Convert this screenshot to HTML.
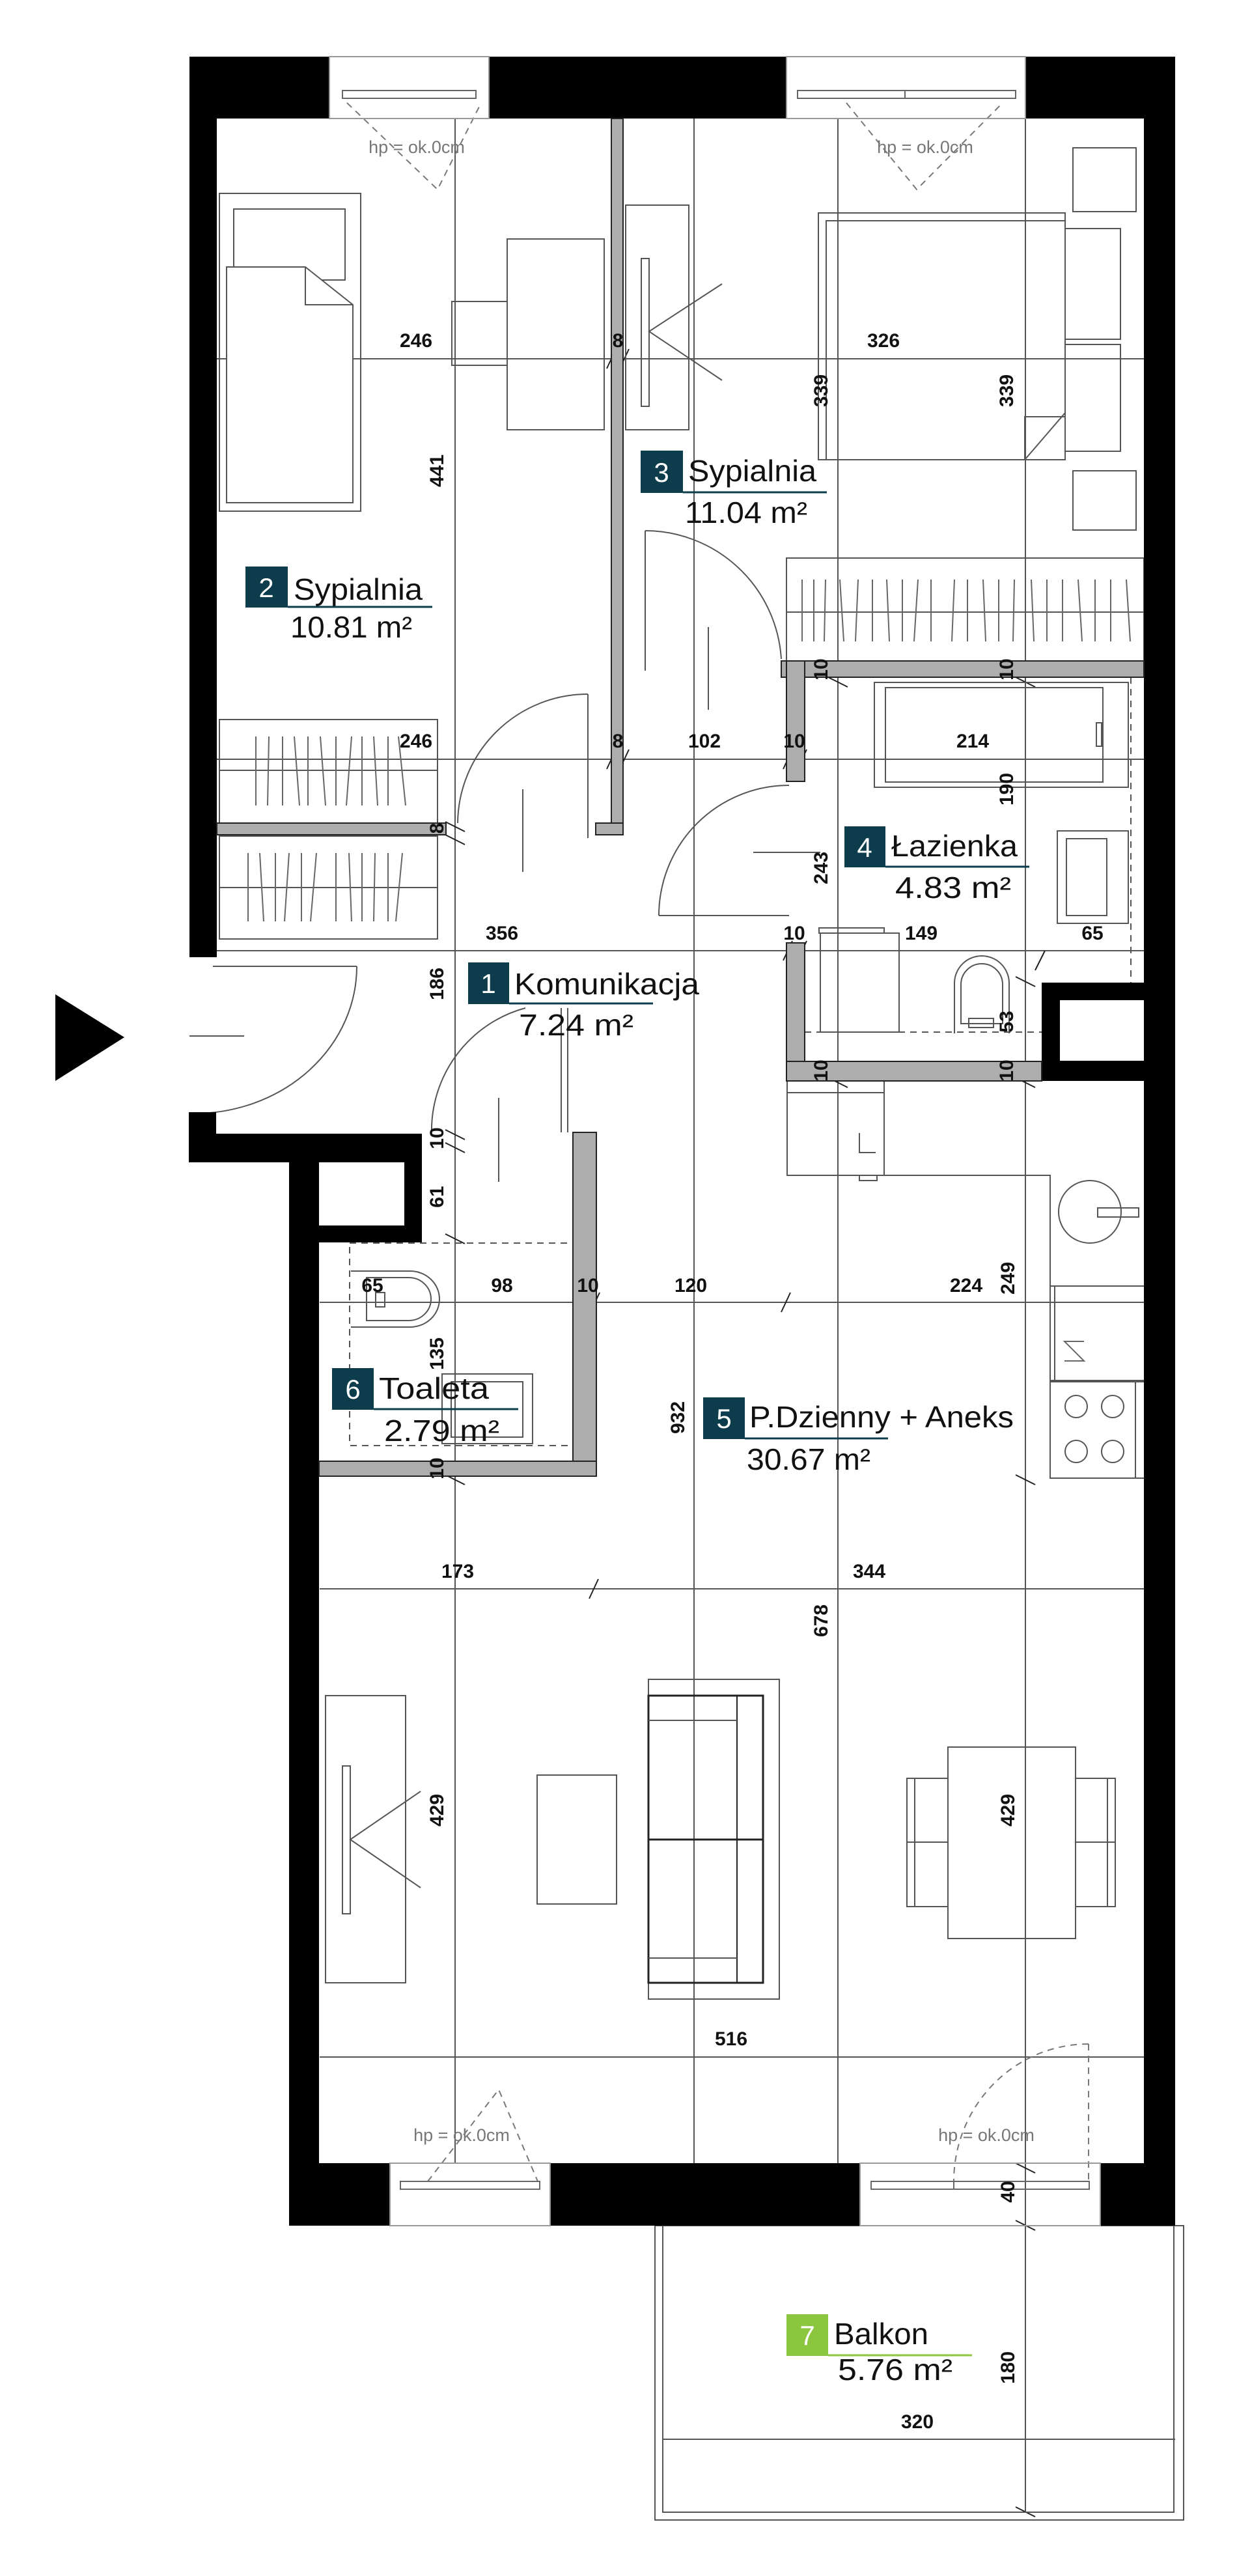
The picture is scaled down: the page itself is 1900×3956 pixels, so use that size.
<!DOCTYPE html>
<html><head><meta charset="utf-8"><style>
html,body{margin:0;padding:0;background:#fff;}
svg{display:block;}
.d{font-family:"Liberation Sans",sans-serif;font-size:30px;font-weight:bold;fill:#111;text-anchor:middle;}
.hp{font-family:"Liberation Sans",sans-serif;font-size:27px;fill:#777;text-anchor:middle;}
.rn{font-family:"Liberation Sans",sans-serif;font-size:46px;fill:#111;}
.ar{font-family:"Liberation Sans",sans-serif;font-size:46px;fill:#111;}
.bn{font-family:"Liberation Sans",sans-serif;font-size:42px;fill:#fff;text-anchor:middle;}
</style></head><body>
<svg width="1900" height="3956" viewBox="0 0 1900 3956" xmlns="http://www.w3.org/2000/svg">
<rect width="1900" height="3956" fill="#fff"/>

<g stroke="#555" stroke-width="2" fill="none">
<line x1="699" y1="182" x2="699" y2="3322"/>
<line x1="1066" y1="182" x2="1066" y2="3322"/>
<line x1="1287" y1="182" x2="1287" y2="3322"/>
<line x1="1575" y1="182" x2="1575" y2="3858"/>
<line x1="333" y1="551" x2="1757" y2="551"/>
<line x1="333" y1="1166" x2="1757" y2="1166"/>
<line x1="333" y1="1460" x2="1757" y2="1460"/>
<line x1="491" y1="2000" x2="1757" y2="2000"/>
<line x1="491" y1="2440" x2="1757" y2="2440"/>
<line x1="491" y1="3159" x2="1757" y2="3159"/>
<line x1="1018" y1="3746" x2="1805" y2="3746"/>
</g>
<g stroke="#222" stroke-width="2">
<line x1="932" y1="566" x2="946" y2="536"/><line x1="952" y1="566" x2="966" y2="536"/>
<line x1="932" y1="1181" x2="946" y2="1151"/><line x1="952" y1="1181" x2="966" y2="1151"/>
<line x1="1203" y1="1181" x2="1217" y2="1151"/><line x1="1225" y1="1181" x2="1239" y2="1151"/>
<line x1="1203" y1="1475" x2="1217" y2="1445"/><line x1="1225" y1="1475" x2="1239" y2="1445"/>
<line x1="885" y1="2015" x2="899" y2="1985"/><line x1="907" y1="2015" x2="921" y2="1985"/>
<line x1="1200" y1="2015" x2="1214" y2="1985"/>
<line x1="905" y1="2455" x2="919" y2="2425"/>
<line x1="1590" y1="1490" x2="1605" y2="1460"/>
<line x1="684" y1="1735" x2="714" y2="1750"/><line x1="684" y1="1755" x2="714" y2="1770"/>
<line x1="684" y1="1895" x2="714" y2="1910"/>
<line x1="684" y1="2245" x2="714" y2="2260"/><line x1="684" y1="2265" x2="714" y2="2280"/>
<line x1="684" y1="1262" x2="714" y2="1277"/><line x1="684" y1="1282" x2="714" y2="1297"/>
<line x1="1272" y1="1015" x2="1302" y2="1030"/><line x1="1272" y1="1040" x2="1302" y2="1055"/>
<line x1="1560" y1="1015" x2="1590" y2="1030"/><line x1="1560" y1="1040" x2="1590" y2="1055"/>
<line x1="1560" y1="1500" x2="1590" y2="1515"/>
<line x1="1560" y1="1630" x2="1590" y2="1645"/><line x1="1560" y1="1655" x2="1590" y2="1670"/>
<line x1="1272" y1="1630" x2="1302" y2="1645"/><line x1="1272" y1="1655" x2="1302" y2="1670"/>
<line x1="1560" y1="2265" x2="1590" y2="2280"/>
<line x1="1560" y1="3322" x2="1590" y2="3337"/><line x1="1560" y1="3410" x2="1590" y2="3425"/>
<line x1="1560" y1="3850" x2="1590" y2="3865"/>
</g>

<g stroke="#555" stroke-width="2" fill="none">
<rect x="337" y="297" width="217" height="488"/>
<rect x="359" y="321" width="171" height="109"/>
<path d="M348 410 H469 L542 468 V772 H348 Z" fill="#fff"/>
<path d="M469 410 V468 H542"/>
<rect x="779" y="367" width="149" height="293"/>
<rect x="694" y="463" width="85" height="98"/>
<rect x="337" y="1105" width="335" height="159"/>
<line x1="337" y1="1183" x2="672" y2="1183"/>
<rect x="337" y="1284" width="335" height="158"/>
<line x1="337" y1="1363" x2="672" y2="1363"/>
<path d="M533 158 L672 291 L739 158" stroke-dasharray="10,8" stroke="#777"/>
<path d="M1300 158 L1408 291 L1540 158" stroke-dasharray="10,8" stroke="#777"/>
<rect x="961" y="315" width="97" height="345"/>
<rect x="985" y="397" width="12" height="227"/>
<path d="M1109 436 L997 509 L1109 584"/>
<rect x="1257" y="327" width="379" height="379"/>
<path d="M1269 339 H1636 V634 L1574 706 H1269 Z"/>
<path d="M1574 706 V640 H1636"/>
<rect x="1648" y="227" width="97" height="98"/>
<rect x="1648" y="723" width="97" height="91"/>
<rect x="1636" y="351" width="85" height="170"/>
<rect x="1636" y="529" width="85" height="164"/>
<rect x="1208" y="857" width="549" height="158"/>
<line x1="1208" y1="940" x2="1757" y2="940"/>
<line x1="991" y1="815" x2="991" y2="1030"/>
<path d="M991 815 A210 210 0 0 1 1200 1012"/>
<line x1="903" y1="1066" x2="903" y2="1287"/>
<path d="M903 1066 A200 200 0 0 0 703 1264"/>
<line x1="1012" y1="1406" x2="1212" y2="1406"/>
<path d="M1012 1406 A200 200 0 0 1 1212 1206"/>
<line x1="803" y1="1212" x2="803" y2="1339"/>
<line x1="1088" y1="963" x2="1088" y2="1090"/>
<line x1="1157" y1="1309" x2="1260" y2="1309"/>
<rect x="1343" y="1048" width="390" height="161"/>
<rect x="1360" y="1056" width="334" height="145"/>
<rect x="1684" y="1110" width="8" height="36"/>
<rect x="1624" y="1276" width="109" height="142"/>
<rect x="1638" y="1288" width="62" height="118"/>
<rect x="1260" y="1433" width="121" height="152"/>
<rect x="1258" y="1425" width="100" height="8"/>
<path d="M1466 1587 V1510 A42 42 0 0 1 1550 1510 V1587"/>
<path d="M1476 1572 V1512 A32 32 0 0 1 1540 1512 V1572 Z"/>
<rect x="1488" y="1564" width="38" height="14"/>
<line x1="1236" y1="1585" x2="1600" y2="1585" stroke-dasharray="10,8"/>
<line x1="1737" y1="1040" x2="1737" y2="1509" stroke-dasharray="10,8"/>
<line x1="327" y1="1484" x2="548" y2="1484"/>
<path d="M548 1484 A250 226 0 0 1 298 1710"/>
<line x1="291" y1="1591" x2="375" y2="1591"/>
<line x1="862" y1="1548" x2="862" y2="1739"/>
<line x1="872" y1="1548" x2="872" y2="1739"/>
<path d="M807 1548 A195 195 0 0 0 663 1742"/>
<line x1="766" y1="1686" x2="766" y2="1815"/>
<rect x="537" y="1909" width="354" height="311" stroke-dasharray="10,8"/>
<path d="M539 1952 H630 A45 43 0 0 1 630 2038 H539"/>
<path d="M563 1962 H628 A34 33 0 0 1 628 2028 H563 Z"/>
<rect x="577" y="1985" width="14" height="22"/>
<rect x="679" y="2110" width="139" height="107"/>
<rect x="693" y="2122" width="110" height="85"/>
<rect x="1209" y="1660" width="149" height="145"/>
<line x1="1209" y1="1678" x2="1358" y2="1678"/>
<path d="M1320 1740 V1770 H1345"/>
<rect x="1320" y="1805" width="27" height="8"/>
<path d="M1358 1805 H1613 V2270 H1758"/>
<circle cx="1674" cy="1861" r="48"/>
<rect x="1686" y="1855" width="63" height="14"/>
<rect x="1613" y="1975" width="145" height="145"/>
<line x1="1620" y1="1975" x2="1620" y2="2120"/>
<path d="M1635 2090 H1665 L1635 2060 H1665" stroke="#666"/>
<rect x="1613" y="2122" width="145" height="148"/>
<line x1="1744" y1="2122" x2="1744" y2="2270"/>
<circle cx="1653" cy="2160" r="17"/><circle cx="1709" cy="2160" r="17"/>
<circle cx="1653" cy="2229" r="17"/><circle cx="1709" cy="2229" r="17"/>
<rect x="500" y="2604" width="123" height="441"/>
<rect x="526" y="2712" width="12" height="227"/>
<path d="M646 2751 L538 2825 L646 2899"/>
<rect x="825" y="2726" width="122" height="198"/>
<rect x="996" y="2579" width="201" height="491"/>
<rect x="996" y="2604" width="176" height="441" stroke="#222" stroke-width="3"/>
<line x1="1132" y1="2604" x2="1132" y2="3045" stroke="#222"/>
<line x1="996" y1="2642" x2="1132" y2="2642"/>
<line x1="996" y1="2825" x2="1172" y2="2825" stroke="#222" stroke-width="3"/>
<line x1="996" y1="3007" x2="1132" y2="3007"/>
<rect x="1456" y="2683" width="196" height="294"/>
<rect x="1393" y="2731" width="63" height="197"/>
<line x1="1405" y1="2731" x2="1405" y2="2928"/>
<line x1="1393" y1="2829" x2="1456" y2="2829"/>
<rect x="1652" y="2731" width="61" height="197"/>
<line x1="1701" y1="2731" x2="1701" y2="2928"/>
<line x1="1652" y1="2829" x2="1713" y2="2829"/>
<path d="M657 3350 L766 3209 L826 3350" stroke-dasharray="10,8" stroke="#777"/>
<path d="M1672 3139 V3350 M1672 3139 A207 211 0 0 0 1465 3350" stroke-dasharray="10,8" stroke="#777"/>
<rect x="1006" y="3418" width="812" height="452"/>
<path d="M1018 3418 V3858 H1803 V3418"/>
</g>
<g stroke="#666" stroke-width="2">
<line x1="393" y1="1131" x2="393" y2="1237"/><line x1="413" y1="1131" x2="411" y2="1237"/><line x1="434" y1="1131" x2="434" y2="1237"/><line x1="452" y1="1131" x2="460" y2="1237"/><line x1="473" y1="1131" x2="473" y2="1237"/><line x1="492" y1="1131" x2="500" y2="1237"/><line x1="516" y1="1131" x2="516" y2="1237"/><line x1="540" y1="1131" x2="532" y2="1237"/><line x1="556" y1="1131" x2="556" y2="1237"/><line x1="574" y1="1131" x2="580" y2="1237"/><line x1="596" y1="1131" x2="596" y2="1237"/><line x1="612" y1="1131" x2="623" y2="1237"/>
<line x1="381" y1="1310" x2="381" y2="1415"/><line x1="399" y1="1310" x2="405" y2="1415"/><line x1="423" y1="1310" x2="423" y2="1415"/><line x1="444" y1="1310" x2="437" y2="1415"/><line x1="463" y1="1310" x2="463" y2="1415"/><line x1="486" y1="1310" x2="477" y2="1415"/><line x1="516" y1="1310" x2="516" y2="1415"/><line x1="536" y1="1310" x2="540" y2="1415"/><line x1="556" y1="1310" x2="556" y2="1415"/><line x1="576" y1="1310" x2="574" y2="1415"/><line x1="596" y1="1310" x2="596" y2="1415"/><line x1="618" y1="1310" x2="608" y2="1415"/>
<line x1="1232" y1="890" x2="1232" y2="985"/><line x1="1250" y1="890" x2="1250" y2="985"/><line x1="1268" y1="890" x2="1266" y2="985"/><line x1="1290" y1="890" x2="1296" y2="985"/><line x1="1318" y1="890" x2="1314" y2="985"/><line x1="1340" y1="890" x2="1340" y2="985"/><line x1="1362" y1="890" x2="1366" y2="985"/><line x1="1386" y1="890" x2="1386" y2="985"/><line x1="1410" y1="890" x2="1404" y2="985"/><line x1="1430" y1="890" x2="1430" y2="985"/><line x1="1466" y1="890" x2="1462" y2="985"/><line x1="1486" y1="890" x2="1486" y2="985"/><line x1="1510" y1="890" x2="1514" y2="985"/><line x1="1534" y1="890" x2="1534" y2="985"/><line x1="1558" y1="890" x2="1556" y2="985"/><line x1="1584" y1="890" x2="1588" y2="985"/><line x1="1608" y1="890" x2="1608" y2="985"/><line x1="1632" y1="890" x2="1632" y2="985"/><line x1="1656" y1="890" x2="1662" y2="985"/><line x1="1682" y1="890" x2="1682" y2="985"/><line x1="1706" y1="890" x2="1706" y2="985"/><line x1="1730" y1="890" x2="1736" y2="985"/>
</g>

<g fill="#000">
<rect x="291" y="87" width="215" height="95"/>
<rect x="751" y="87" width="457" height="95"/>
<rect x="1575" y="87" width="230" height="95"/>
<rect x="291" y="87" width="42" height="1383"/>
<rect x="1757" y="87" width="48" height="3331"/>
<rect x="290" y="1741" width="358" height="44"/>
<rect x="290" y="1708" width="42" height="77"/>
<rect x="444" y="1741" width="46" height="1677"/>
<rect x="621" y="1741" width="27" height="167"/>
<rect x="490" y="1882" width="158" height="26"/>
<rect x="1600" y="1509" width="157" height="27"/>
<rect x="1600" y="1509" width="28" height="151"/>
<rect x="1600" y="1629" width="157" height="31"/>
<rect x="445" y="3322" width="154" height="96"/>
<rect x="845" y="3322" width="476" height="96"/>
<rect x="1690" y="3322" width="115" height="96"/>
</g>
<g stroke="#666" stroke-width="2" fill="none">
<rect x="506" y="87" width="245" height="95" stroke="#999"/>
<rect x="526" y="139" width="205" height="12"/>
<rect x="1208" y="87" width="367" height="95" stroke="#999"/>
<rect x="1225" y="139" width="335" height="12"/>
<line x1="1390" y1="139" x2="1390" y2="151"/>
<rect x="599" y="3322" width="246" height="96" stroke="#999"/>
<rect x="615" y="3350" width="214" height="12"/>
<rect x="1321" y="3322" width="369" height="96" stroke="#999"/>
<rect x="1338" y="3350" width="335" height="12"/>
<line x1="1465" y1="3350" x2="1465" y2="3362"/>
</g>
<g fill="#adadad" stroke="#222" stroke-width="2">
<rect x="939" y="182" width="18" height="1100"/>
<rect x="915" y="1264" width="42" height="18"/>
<rect x="333" y="1264" width="352" height="18"/>
<rect x="1200" y="1015" width="557" height="25"/>
<rect x="1208" y="1015" width="28" height="185"/>
<rect x="1208" y="1448" width="28" height="212"/>
<rect x="1208" y="1630" width="392" height="30"/>
<rect x="880" y="1739" width="36" height="528"/>
<rect x="490" y="2244" width="426" height="23"/>
</g>

<polygon points="85,1527 191,1593 85,1660" fill="#000"/>

<g class="d">
<text x="639" y="533">246</text><text x="949" y="533">8</text><text x="1357" y="533">326</text>
<text x="639" y="1148">246</text><text x="949" y="1148">8</text><text x="1082" y="1148">102</text><text x="1220" y="1148">10</text><text x="1494" y="1148">214</text>
<text x="771" y="1443">356</text><text x="1220" y="1443">10</text><text x="1415" y="1443">149</text><text x="1678" y="1443">65</text>
<text x="572" y="1984">65</text><text x="771" y="1984">98</text><text x="903" y="1984">10</text><text x="1061" y="1984">120</text><text x="1484" y="1984">224</text>
<text x="703" y="2423">173</text><text x="1335" y="2423">344</text>
<text x="1123" y="3141">516</text><text x="1409" y="3729">320</text>
<text transform="translate(1271,600) rotate(-90)">339</text>
<text transform="translate(1556,600) rotate(-90)">339</text>
<text transform="translate(681,723) rotate(-90)">441</text>
<text transform="translate(1556,1212) rotate(-90)">190</text>
<text transform="translate(681,1272) rotate(-90)">8</text>
<text transform="translate(1271,1333) rotate(-90)">243</text>
<text transform="translate(1271,1028) rotate(-90)">10</text>
<text transform="translate(1556,1028) rotate(-90)">10</text>
<text transform="translate(681,1511) rotate(-90)">186</text>
<text transform="translate(1556,1569) rotate(-90)">53</text>
<text transform="translate(1271,1644) rotate(-90)">10</text>
<text transform="translate(1556,1644) rotate(-90)">10</text>
<text transform="translate(681,1748) rotate(-90)">10</text>
<text transform="translate(681,1838) rotate(-90)">61</text>
<text transform="translate(1558,1963) rotate(-90)">249</text>
<text transform="translate(681,2079) rotate(-90)">135</text>
<text transform="translate(1051,2177) rotate(-90)">932</text>
<text transform="translate(681,2255) rotate(-90)">10</text>
<text transform="translate(1271,2489) rotate(-90)">678</text>
<text transform="translate(681,2780) rotate(-90)">429</text>
<text transform="translate(1558,2780) rotate(-90)">429</text>
<text transform="translate(1558,3366) rotate(-90)">40</text>
<text transform="translate(1558,3636) rotate(-90)">180</text>
</g>
<g class="hp">
<text x="640" y="235">hp = ok.0cm</text><text x="1421" y="235">hp = ok.0cm</text>
<text x="709" y="3288">hp = ok.0cm</text><text x="1515" y="3288">hp = ok.0cm</text>
</g>

<g>
<rect x="377" y="870" width="65" height="63" fill="#0d3d4c"/><text class="bn" x="409" y="917">2</text>
<text class="rn" x="451" y="921" textLength="198" lengthAdjust="spacingAndGlyphs">Sypialnia</text>
<line x1="442" y1="932" x2="664" y2="932" stroke="#0d3d4c" stroke-width="3"/>
<text class="ar" x="446" y="979" textLength="187" lengthAdjust="spacingAndGlyphs">10.81 m²</text>

<rect x="984" y="692" width="65" height="65" fill="#0d3d4c"/><text class="bn" x="1016" y="740">3</text>
<text class="rn" x="1057" y="739" textLength="197" lengthAdjust="spacingAndGlyphs">Sypialnia</text>
<line x1="1049" y1="756" x2="1270" y2="756" stroke="#0d3d4c" stroke-width="3"/>
<text class="ar" x="1052" y="803" textLength="188" lengthAdjust="spacingAndGlyphs">11.04 m²</text>

<rect x="1297" y="1269" width="63" height="63" fill="#0d3d4c"/><text class="bn" x="1328" y="1316">4</text>
<text class="rn" x="1369" y="1315" textLength="194" lengthAdjust="spacingAndGlyphs">Łazienka</text>
<line x1="1360" y1="1331" x2="1581" y2="1331" stroke="#0d3d4c" stroke-width="3"/>
<text class="ar" x="1375" y="1379" textLength="178" lengthAdjust="spacingAndGlyphs">4.83  m²</text>

<rect x="719" y="1478" width="63" height="64" fill="#0d3d4c"/><text class="bn" x="750" y="1525">1</text>
<text class="rn" x="790" y="1527" textLength="284" lengthAdjust="spacingAndGlyphs">Komunikacja</text>
<line x1="782" y1="1541" x2="1003" y2="1541" stroke="#0d3d4c" stroke-width="3"/>
<text class="ar" x="797" y="1590" textLength="176" lengthAdjust="spacingAndGlyphs">7.24  m²</text>

<rect x="510" y="2101" width="64" height="64" fill="#0d3d4c"/><text class="bn" x="542" y="2148">6</text>
<text class="rn" x="582" y="2148" textLength="169" lengthAdjust="spacingAndGlyphs">Toaleta</text>
<line x1="574" y1="2164" x2="796" y2="2164" stroke="#0d3d4c" stroke-width="3"/>
<text class="ar" x="590" y="2213" textLength="177" lengthAdjust="spacingAndGlyphs">2.79  m²</text>

<rect x="1080" y="2146" width="64" height="64" fill="#0d3d4c"/><text class="bn" x="1112" y="2193">5</text>
<text class="rn" x="1151" y="2192" textLength="406" lengthAdjust="spacingAndGlyphs">P.Dzienny + Aneks</text>
<line x1="1144" y1="2209" x2="1364" y2="2209" stroke="#0d3d4c" stroke-width="3"/>
<text class="ar" x="1147" y="2257" textLength="190" lengthAdjust="spacingAndGlyphs">30.67 m²</text>

<rect x="1208" y="3554" width="64" height="64" fill="#8cc63f"/><text class="bn" x="1240" y="3601">7</text>
<text class="rn" x="1281" y="3600" textLength="145" lengthAdjust="spacingAndGlyphs">Balkon</text>
<line x1="1272" y1="3617" x2="1493" y2="3617" stroke="#8cc63f" stroke-width="3"/>
<text class="ar" x="1287" y="3655" textLength="176" lengthAdjust="spacingAndGlyphs">5.76  m²</text>
</g>
</svg>
</body></html>
